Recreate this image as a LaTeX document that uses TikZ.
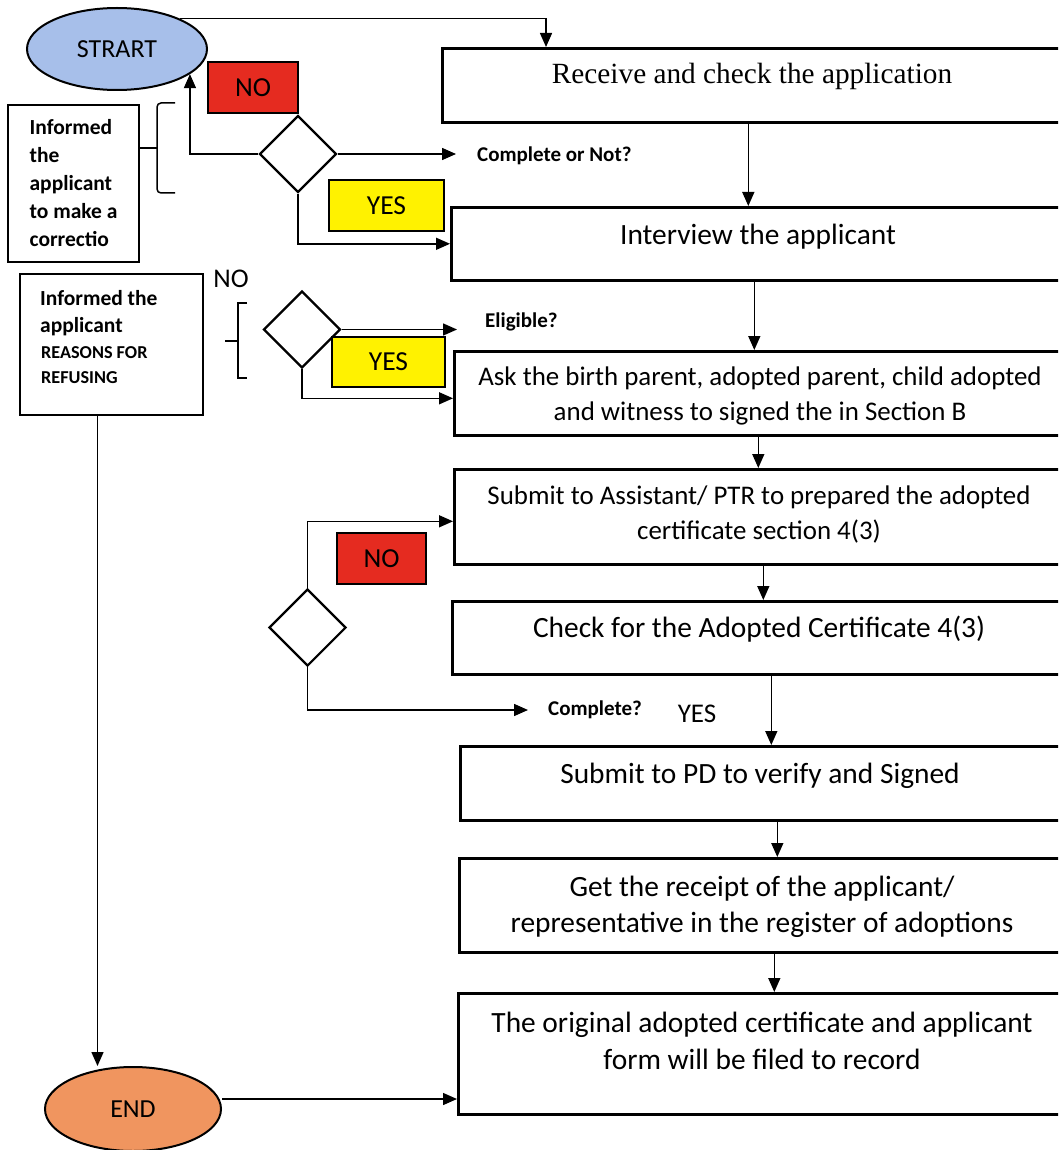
\documentclass[tikz,border=0pt]{standalone}
\usepackage{fontspec}
\setmainfont{Carlito}
\newfontfamily\timesface{Liberation Serif}
\usetikzlibrary{shapes.geometric,arrows.meta,calc}

\definecolor{startblue}{HTML}{A7BFEA}
\definecolor{endorange}{HTML}{F0955F}
\definecolor{nored}{HTML}{E52B20}
\definecolor{yesyellow}{HTML}{FFF200}

\begin{document}
\begin{tikzpicture}[x=1pt,y=-1pt,
  stepbox/.style={draw, line width=2.6pt, rectangle, anchor=north west, inner sep=0pt},
  sidebox/.style={draw, line width=2pt, rectangle, anchor=north west, inner sep=0pt,
    align=left, font=\fontsize{21.5}{28}\selectfont\bfseries},
  steptext/.style={align=center, inner sep=0pt, font=\fontsize{29.4}{36.5}\selectfont},
  smallsteptext/.style={align=center, inner sep=0pt, font=\fontsize{26.9}{35}\selectfont},
  terminal/.style={ellipse, draw, line width=2pt, inner sep=0pt, font=\fontsize{26}{30}\selectfont},
  decision/.style={diamond, draw, line width=2.2pt, fill=white, inner sep=0pt, aspect=1,
    minimum width=77pt, minimum height=77pt},
  tag/.style={draw, line width=2pt, inner sep=0pt, minimum height=51pt, font=\fontsize{27.5}{30}\selectfont},
  question/.style={anchor=west, inner sep=0pt, font=\fontsize{21}{25}\selectfont\bfseries},
  plainlabel/.style={inner sep=0pt, font=\fontsize{27}{30}\selectfont},
  flow/.style={line width=1.5pt, -{Triangle[length=14pt,width=12pt]}},
  link/.style={line width=1.5pt},
]
\clip (0,0) rectangle (1058,1150);
\fill[white] (0,0) rectangle (1058,1150);

% terminals
\node[terminal, fill=startblue, minimum width=180pt, minimum height=82pt] (start) at (117,49) {STRART};
\node[terminal, fill=endorange, minimum width=176pt, minimum height=84pt] (finish) at (133,1109) {END};

% process steps (their right sides run off the page)
\node[stepbox, minimum width=639pt, minimum height=74pt]  (b1) at (441,47)  {};
\node[stepbox, minimum width=630pt, minimum height=73pt]  (b2) at (450,206) {};
\node[stepbox, minimum width=627pt, minimum height=84pt]  (b3) at (453,350) {};
\node[stepbox, minimum width=627pt, minimum height=95pt]  (b4) at (453,468) {};
\node[stepbox, minimum width=629pt, minimum height=73pt]  (b5) at (451,600) {};
\node[stepbox, minimum width=621pt, minimum height=74pt]  (b6) at (459,745) {};
\node[stepbox, minimum width=622pt, minimum height=94pt]  (b7) at (458,857) {};
\node[stepbox, minimum width=623pt, minimum height=121pt] (b8) at (457,992) {};

\node[inner sep=0pt, font=\timesface\fontsize{29.3}{34}\selectfont] (t1) at (752,76) {Receive and check the application};
\node[steptext] (t2) at (758,237) {Interview the applicant};
\node[smallsteptext] (t3) at (760,396) {Ask the birth parent, adopted parent, child adopted\\and witness to signed the in Section B};
\node[smallsteptext] (t4) at (759,515) {Submit to Assistant/ PTR to prepared the adopted\\certificate section 4(3)};
\node[steptext] (t5) at (759,629) {Check for the Adopted Certificate 4(3)};
\node[steptext] (t6) at (760,776) {Submit to PD to verify and Signed};
\node[steptext] (t7) at (762,907) {Get the receipt of the applicant/\\representative in the register of adoptions};
\node[steptext] (t8) at (762,1041) {The original adopted certificate and applicant\\form will be filed to record};

% side notes
\node[sidebox, minimum width=131pt, minimum height=157pt] (lb1) at (7,104) {Informed\\the\\applicant\\to make a\\correctio};
\node[sidebox, minimum width=183pt, minimum height=141pt] (lb2) at (19,273) {};
\node[anchor=north west, inner sep=0pt, align=left, font=\fontsize{21.5}{27}\selectfont\bfseries] (lb2a) at (40,290) {Informed the\\applicant};
\node[anchor=north west, inner sep=0pt, align=left, font=\fontsize{18.2}{25}\selectfont\bfseries] (lb2b) at (41,346) {REASONS FOR\\REFUSING};

% decisions
\node[decision] (d1) at (298,154) {};
\node[decision] (d2) at (302,329.5) {};
\node[decision] (d3) at (307.5,627.5) {};

% answer tags
\node[tag, fill=nored, minimum width=90pt] (no1) at (253,87.5) {NO};
\node[tag, fill=yesyellow, minimum width=115pt] (yes1) at (386.5,205.5) {YES};
\node[tag, fill=yesyellow, minimum width=113pt, minimum height=50pt] (yes2) at (388.5,362) {YES};
\node[tag, fill=nored, minimum width=89pt] (no3) at (381.5,558.5) {NO};
\node[plainlabel] (no2) at (231,279) {NO};
\node[plainlabel] (yes3) at (697,714) {YES};

% questions
\node[question] (q1) at (477,156) {Complete or Not?};
\node[question] (q2) at (485,322) {Eligible?};
\node[question] (q3) at (548,710) {Complete?};

% brackets beside the side notes
\coordinate (br1) at (157,148);
\draw[link, rounded corners=4pt] (175,103) -| (br1) |- (175,193);
\draw[link] (br1) -- (br1 -| lb1.east);
\coordinate (br2) at (238,341);
\draw[link] (247,303) -| (br2) |- (247,378);
\draw[link] (br2) -- ++(-13,0);

% connectors
\draw[flow] (start.26) -| ([xshift=105pt]b1.north west);
\draw[flow] (d1.west) -| (start.-19);
\draw[flow, shorten >=21pt] (d1.east) -- (d1.east -| q1.west);
\draw[flow] (d1.south) |- (b2.west);
\draw[flow] ([xshift=-13.5pt]b1.south) -- ([xshift=-13.5pt]b1.south |- b2.north);
\draw[flow] ([xshift=-12pt]b2.south) -- ([xshift=-12pt]b2.south |- b3.north);
\draw[flow, shorten >=28pt] (d2.east) -- (d2.east -| q2.west);
\draw[flow] (d2.south) |- ([yshift=-5pt]b3.west);
\draw[flow] ([xshift=-9.5pt]b3.south) -- ([xshift=-9.5pt]b3.south |- b4.north);
\draw[flow] (d3.north) |- ([yshift=-4.5pt]b4.west);
\draw[flow] ([xshift=-4.5pt]b4.south) -- ([xshift=-4.5pt]b4.south |- b5.north);
\draw[flow, shorten >=20pt] (d3.south) |- (q3.west);
\draw[flow] ([xshift=4.5pt]b5.south) -- ([xshift=4.5pt]b5.south |- b6.north);
\draw[flow] ([xshift=6.5pt]b6.south) -- ([xshift=6.5pt]b6.south |- b7.north);
\draw[flow] ([xshift=4pt]b7.south) -- ([xshift=4pt]b7.south |- b8.north);
\draw[flow] ([xshift=-14pt]lb2.south) -- ([xshift=-14pt]lb2.south |- finish.north);
\draw[flow] ([yshift=10pt]finish.east) -- ([yshift=10pt]finish.east -| b8.west);
\end{tikzpicture}
\end{document}
